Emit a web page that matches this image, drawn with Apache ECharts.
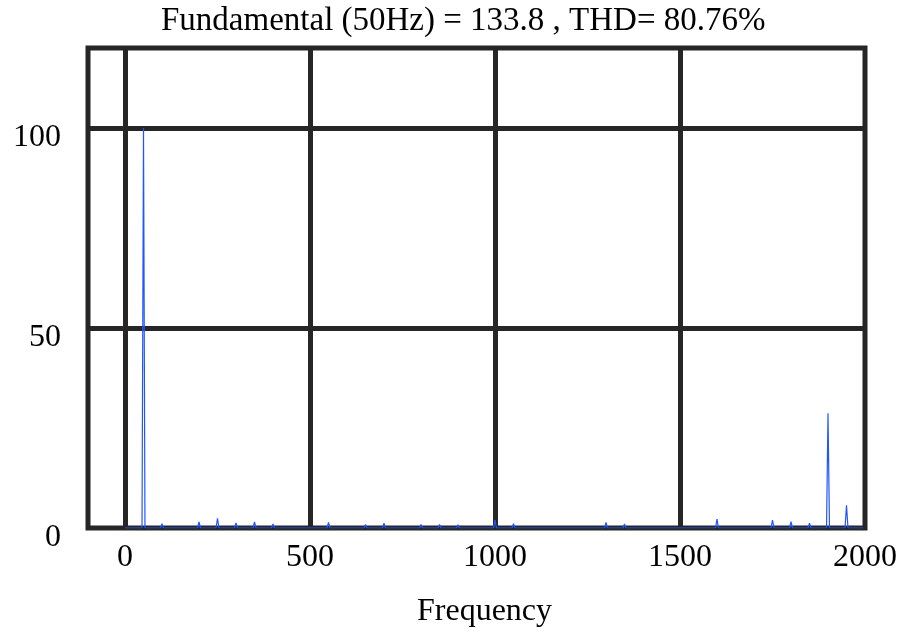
<!DOCTYPE html>
<html lang="en">
<head>
    <meta charset="UTF-8">
    <script src="https://cdn.jsdelivr.net/npm/echarts@6.0.0/dist/echarts.min.js"></script>
    <title>Spectrum</title>
    <style>
        html, body { margin: 0; padding: 0; background: #fff; }
        #tu { width: 911px; height: 636px; }
    </style>
</head>
<body>
<div id="tu"></div>
<script type="text/javascript">
    // harmonic frequencies (Hz) and magnitudes (% of fundamental)
    var harmFreq = [50, 100, 150, 200, 250, 300, 350, 400, 450, 500,
        550, 600, 650, 700, 750, 800, 850, 900, 950, 1000,
        1050, 1100, 1150, 1200, 1250, 1300, 1350, 1400, 1450, 1500,
        1550, 1600, 1650, 1700, 1750, 1800, 1850, 1900, 1950];
    var harmMag = [100, 1.1, 0.3, 1.5, 2.4, 1.3, 1.5, 1.0, 0.3, 0.5,
        1.4, 0.3, 0.9, 1.2, 0.5, 0.9, 0.9, 0.8, 0.3, 2.0,
        1.1, 0.5, 0.4, 0.2, 0.4, 1.4, 1.0, 0.2, 0.4, 0.3,
        0.2, 2.2, 0.2, 0.4, 2.0, 1.6, 1.2, 28.7, 5.7];
    var xTicks = [0, 500, 1000, 1500, 2000];
    var yTicks = [0, 50, 100];

    // each harmonic is a narrow spike on a zero floor
    var lineData = [[0, 0]];
    for (var i = 0; i < harmFreq.length; i++) {
        lineData.push([harmFreq[i] - 4, 0]);
        lineData.push([harmFreq[i], harmMag[i]]);
        lineData.push([harmFreq[i] + 4, 0]);
    }
    lineData.push([1995, 0]);

    var serif = 'Liberation Serif';
    var dark = '#262626';

    var thisChart = echarts.init(document.getElementById('tu'));
    var option = {
        animation: false,
        title: {
            text: 'Fundamental (50Hz) = 133.8 , THD= 80.76%',
            left: 161,
            top: 0,
            padding: [5, 0, 0, 0],
            textStyle: { fontFamily: serif, fontSize: 33, fontWeight: 'normal', color: '#000' }
        },
        grid: {
            left: 88, right: 46, top: 48, bottom: 108,
            show: true, borderColor: dark, borderWidth: 5
        },
        xAxis: {
            type: 'value',
            min: -100, max: 2000,
            name: 'Frequency',
            nameLocation: 'middle',
            nameGap: 68,
            nameTextStyle: { fontFamily: serif, fontSize: 32, color: '#000', padding: [0, 0, 0, 16] },
            axisLine: { show: false },
            axisTick: { show: false, customValues: [0, 500, 1000, 1500] },
            axisLabel: {
                customValues: xTicks,
                formatter: function (v) { return String(v); },
                fontFamily: serif, fontSize: 32, color: '#000', margin: 14
            },
            splitLine: { show: true, lineStyle: { color: dark, width: 5 } }
        },
        yAxis: {
            type: 'value',
            min: 0, max: 120,
            axisLine: { show: false },
            axisTick: { show: false, customValues: [50, 100] },
            axisLabel: {
                customValues: yTicks,
                fontFamily: serif, fontSize: 32, color: '#000', margin: 27,
                verticalAlign: 'top', lineHeight: 20
            },
            splitLine: { show: true, lineStyle: { color: dark, width: 5 } }
        },
        series: [{
            type: 'line',
            data: lineData,
            symbol: 'none',
            lineStyle: { color: '#2255ff', width: 1.2 },
            z: 1
        }]
    };
    thisChart.setOption(option);
</script>
</body>
</html>
